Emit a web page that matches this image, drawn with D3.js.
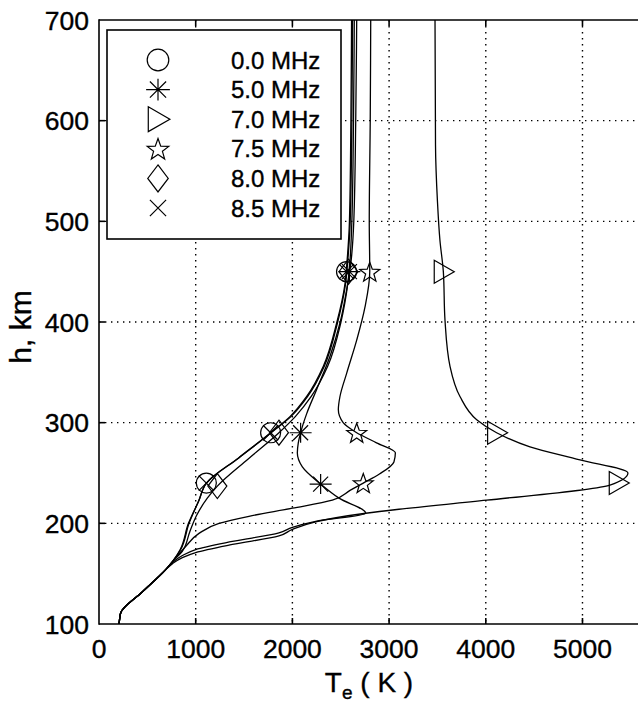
<!DOCTYPE html>
<html><head><meta charset="utf-8">
<script src="https://cdn.jsdelivr.net/npm/d3@7"></script>
<style>
body{margin:0;background:#fff}
svg{display:block}
text{font-family:"Liberation Sans",Arial,Helvetica,sans-serif;fill:#000;stroke:#000;stroke-width:0.35px}
</style>
</head><body>
<svg id="chart" width="638" height="705"></svg>
<script>
// ---------- data ----------
const labels = ["0.0 MHz","5.0 MHz","7.0 MHz","7.5 MHz","8.0 MHz","8.5 MHz"];
const symbols = ["circle","asterisk","triangle","star","diamond","cross"];
const xTicks = [0,1000,2000,3000,4000,5000];
const yTicks = [100,200,300,400,500,600,700];

// common low-altitude trunk [Te (K), h (km)]
const trunk = [[690,154],[450,132],[224,111],[212,104],[207,100]];

const s00 = [[2612,700],[2605,600],[2590,500],[2565,460],[2544,438],[2458,399],[2320,356],[2148,326],[1975,306],[1775,290],[1443,265],[1110,240],[1034,223],[931,200],[845,174],[760,162]];
const s50 = [[2665,700],[2655,600],[2635,500],[2600,455],[2561,432],[2492,399],[2389,366],[2251,333],[2148,309],[2085,290],[2061,280],[2051,270],[2103,256],[2292,239],[2482,225],[2758,210],[2240,202],[2000,196],[1861,190.5],[1379,182],[1000,174],[862,168],[760,161]];
const s70 = [[3475,700],[3480,576],[3500,520],[3526,481],[3561,450],[3578,402],[3630,356],[3733,326],[3906,303],[4112,290],[4457,276],[4974,263],[5470,250],[5284,238],[4009,223],[3102,214],[2758,210],[2240,201.5],[2000,194],[1861,187.5],[1379,179],[1000,171],[862,166],[760,160]];
const s75 = [[2810,700],[2805,600],[2795,500],[2800,450],[2751,415],[2665,382],[2561,349],[2492,326],[2475,313],[2525,300],[2665,290],[2870,280],[3065,270],[3050,261],[2900,249],[2733,240],[2600,233],[2413,223],[2000,215],[1551,207],[1241,200],[1034,190],[896,177],[760,162]];
const s80 = [[2640,700],[2632,600],[2615,500],[2595,460],[2575,440],[2500,399],[2365,356],[2195,326],[2030,306],[1861,290],[1543,264],[1224,237],[1120,225],[1010,208],[940,192],[860,172],[760,162]];
const s85 = [[2622,700],[2615,600],[2598,500],[2572,460],[2550,438],[2466,399],[2330,356],[2158,326],[1985,306],[1780,290],[1446,265],[1112,240],[1030,222],[925,200],[840,174],[760,162]];
const series = [s00,s50,s70,s75,s80,s85];

// marker positions on each curve
const mk00 = [[1110,240],[1775,290],[2560,450]];
const mk50 = [[2292,239],[2085,290],[2590,450]];
const mk70 = [[5370,240],[4112,290],[3560,450]];
const mk75 = [[2733,240],[2665,290],[2800,450]];
const mk80 = [[1224,237],[1861,290],[2580,450]];
const mk85 = [[1110,240],[1775,290],[2560,450]];
const markers = [mk00,mk50,mk70,mk75,mk80,mk85];

// ---------- drawing ----------
const svg = d3.select("#chart");
const x = d3.scaleLinear().domain([0,5600]).range([99,640.5]);
const y = d3.scaleLinear().domain([100,700]).range([624,20]);

svg.append("defs").append("clipPath").attr("id","clip")
  .append("rect").attr("x",99).attr("y",20).attr("width",545).attr("height",604);

// grid
const grid = svg.append("g").attr("stroke","#000").attr("stroke-width",1.4)
  .attr("stroke-dasharray","1.4,4.6");
xTicks.filter(t=>t>0).forEach(t=>{
  grid.append("line").attr("x1",x(t)).attr("x2",x(t)).attr("y1",y(700)).attr("y2",y(100));
});
yTicks.filter(t=>t>100 && t<700).forEach(t=>{
  grid.append("line").attr("x1",x(0)).attr("x2",x(5600)).attr("y1",y(t)).attr("y2",y(t));
});

// curves
const line = d3.line().x(d=>x(d[0])).y(d=>y(d[1])).curve(d3.curveMonotoneY);
const plot = svg.append("g").attr("clip-path","url(#clip)");
series.forEach(s=>{
  plot.append("path").attr("d",line(s.concat(trunk)))
    .attr("fill","none").attr("stroke","#000").attr("stroke-width",1.3);
});

// marker shapes
function starPath(ro,ri){
  let p=[];
  for(let i=0;i<10;i++){
    const r = i%2===0?ro:ri;
    const a = -Math.PI/2 + i*Math.PI/5;
    p.push([r*Math.cos(a), r*Math.sin(a)]);
  }
  return "M"+p.map(q=>q[0].toFixed(2)+","+q[1].toFixed(2)).join("L")+"Z";
}
function drawMarker(g,type,cx,cy,scale){
  const k = scale||1;
  const m = g.append("g").attr("transform",`translate(${cx},${cy}) scale(${k})`)
    .attr("fill","none").attr("stroke","#000").attr("stroke-width",1.2/k);
  if(type==="circle") m.append("circle").attr("r",10);
  else if(type==="asterisk"){
    m.append("path").attr("d","M-11,0L11,0M0,-10L0,10M-7.5,-7.5L7.5,7.5M-7.5,7.5L7.5,-7.5");
  }
  else if(type==="triangle") m.append("path").attr("d","M-9,-11.5L11,0L-9,11.5Z");
  else if(type==="star") m.append("path").attr("d",starPath(10.5,4.3)).attr("transform","translate(0,1)");
  else if(type==="diamond") m.append("path").attr("d","M0,-12.5L9.5,0L0,12.5L-9.5,0Z");
  else if(type==="cross") m.append("path").attr("d","M-7.5,-7.5L7.5,7.5M-7.5,7.5L7.5,-7.5");
}
const mg = svg.append("g").attr("clip-path","url(#clip)");
markers.forEach((arr,i)=>{
  arr.forEach(d=>drawMarker(mg,symbols[i],x(d[0]),y(d[1]),1));
});

// axes (box style, inward ticks)
const ax = svg.append("g").attr("stroke","#000").attr("stroke-width",1.6).attr("fill","none");
ax.append("line").attr("x1",x(0)).attr("x2",x(0)).attr("y1",y(700)-0.8).attr("y2",y(100)+0.8);
ax.append("line").attr("x1",x(0)).attr("x2",x(5600)).attr("y1",y(100)).attr("y2",y(100));
ax.append("line").attr("x1",x(0)).attr("x2",x(5600)).attr("y1",y(700)).attr("y2",y(700));
xTicks.filter(t=>t>0).forEach(t=>{
  ax.append("line").attr("x1",x(t)).attr("x2",x(t)).attr("y1",y(100)).attr("y2",y(100)-6);
  ax.append("line").attr("x1",x(t)).attr("x2",x(t)).attr("y1",y(700)).attr("y2",y(700)+6);
});
yTicks.filter(t=>t>100 && t<700).forEach(t=>{
  ax.append("line").attr("x1",x(0)).attr("x2",x(0)+6).attr("y1",y(t)).attr("y2",y(t));
});

// tick labels
svg.append("g").selectAll("text").data(xTicks).join("text")
  .attr("x",d=>x(d)).attr("y",658).attr("text-anchor","middle")
  .attr("font-size",26.5).text(d=>d);
svg.append("g").selectAll("text").data(yTicks).join("text")
  .attr("x",89).attr("y",d=>y(d)+9.5).attr("text-anchor","end")
  .attr("font-size",26.5).text(d=>d);

// axis titles
const xt = svg.append("text").attr("x",369).attr("y",692).attr("text-anchor","middle").attr("font-size",28);
xt.append("tspan").text("T");
xt.append("tspan").attr("font-size",19).attr("dy",7).text("e");
xt.append("tspan").attr("dy",-7).text(" ( K )");
svg.append("text").attr("transform","translate(31,327) rotate(-90)")
  .attr("text-anchor","middle").attr("font-size",30).text("h, km");

// legend
const lg = svg.append("g");
lg.append("rect").attr("x",107).attr("y",30).attr("width",234).attr("height",209)
  .attr("fill","#fff").attr("stroke","#000").attr("stroke-width",1.6);
labels.forEach((lab,i)=>{
  const cy = 60 + i*29.6;
  drawMarker(lg,symbols[i],158,cy,1.08);
  lg.append("text").attr("x",231).attr("y",cy+8.5).attr("font-size",24).text(lab);
});
</script>
</body></html>
